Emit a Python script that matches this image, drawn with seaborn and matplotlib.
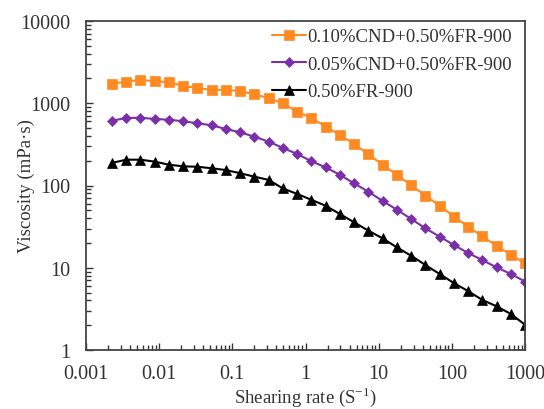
import numpy as np
import pandas as pd
import matplotlib
matplotlib.use("Agg")
import matplotlib.pyplot as plt
import matplotlib.ticker as mticker
import seaborn as sns

shear_rate = [0.00226, 0.00355, 0.00555, 0.00869, 0.0136, 0.0213, 0.0333, 0.0522,
              0.0818, 0.128, 0.200, 0.314, 0.491, 0.769, 1.205, 1.888, 2.95, 4.62,
              7.24, 11.3, 17.7, 27.8, 43.5, 68.1, 107, 167, 261, 409, 641, 1000]
visc_010cnd = [1730, 1830, 1930, 1850, 1800, 1630, 1530, 1450, 1460, 1400, 1290, 1150,
               1000, 788, 662, 519, 411, 320, 239, 179, 135, 101, 75, 57, 41.8, 31.6,
               24.1, 18.5, 14.4, 11.3]
visc_005cnd = [614, 662, 667, 644, 631, 604, 571, 540, 486, 443, 392, 341,
               286, 242, 197, 166, 135, 106, 84, 65, 50.8, 39.2, 30.2, 23.9, 18.9,
               15.1, 12.4, 10.1, 8.4, 6.8]
visc_fr900 = [188, 206, 206, 195, 179, 171, 169, 162, 154, 141, 128, 117,
              92, 79, 67, 56.7, 45, 35.7, 28.2, 22.8, 17.7, 14.0, 10.8, 8.4, 6.5,
              5.2, 4.06, 3.4, 2.74, 2.03]
series_names = ["0.10%CND+0.50%FR-900", "0.05%CND+0.50%FR-900", "0.50%FR-900"]
x_tick_labels = ["0.001", "0.01", "0.1", "1", "10", "100", "1000"]
y_tick_labels = ["1", "10", "100", "1000", "10000"]

sns.set_theme(style="white")
plt.rcParams["font.family"] = ["Liberation Serif", "DejaVu Serif"]
plt.rcParams["mathtext.fontset"] = "custom"
plt.rcParams["mathtext.rm"] = "Liberation Serif"

fig = plt.figure(figsize=(5.44, 4.10), dpi=100)
ax = fig.add_axes([86/544, 1 - 351/410, (525-86)/544, (351-22)/410])

styles = [("#FF8A22", "s", 6.5), ("#7B2FA8", "D", 5.0), ("#000000", "^", 6.5)]
for name, vals, (col, mk, ms) in zip(series_names, [visc_010cnd, visc_005cnd, visc_fr900], styles):
    df = pd.DataFrame({"x": shear_rate, "y": vals})
    sns.lineplot(data=df, x="x", y="y", ax=ax, color=col, marker=mk, markersize=ms,
                 markeredgewidth=0.5, markeredgecolor=col, linewidth=1.5, label=name)

ax.set_xscale("log")
ax.set_yscale("log")
ax.set_xlim(0.001, 1000)
ax.set_ylim(1, 10000)
ax.xaxis.set_major_locator(mticker.FixedLocator([float(t) for t in x_tick_labels]))
ax.xaxis.set_major_formatter(mticker.FixedFormatter(x_tick_labels))
ax.yaxis.set_major_locator(mticker.FixedLocator([float(t) for t in y_tick_labels]))
ax.yaxis.set_major_formatter(mticker.FixedFormatter(y_tick_labels))
ax.xaxis.set_minor_locator(mticker.LogLocator(base=10, subs=np.arange(2, 10), numticks=20))
ax.yaxis.set_minor_locator(mticker.LogLocator(base=10, subs=np.arange(2, 10), numticks=20))
ax.xaxis.set_minor_formatter(mticker.NullFormatter())
ax.yaxis.set_minor_formatter(mticker.NullFormatter())
ax.tick_params(which="both", direction="in", colors="#333333", labelcolor="#333333",
               labelsize=14.5, width=1, bottom=True, left=True, top=False, right=False)
ax.tick_params(which="major", length=5)
ax.tick_params(which="minor", length=3.5)
ax.tick_params(axis="x", which="major", pad=10)
ax.tick_params(axis="y", which="major", pad=11)

for sp in ax.spines.values():
    sp.set_color("#444444")
    sp.set_linewidth(1.3)

ax.set_xlabel("Shearing rate (S$^{\\mathregular{-1}}$)", fontsize=13.5, color="#333333")
ax.set_ylabel("Viscosity (mPa·s)", fontsize=13.5, color="#333333")
ax.xaxis.set_label_coords(0.5, -0.105)
ax.yaxis.set_label_coords(-0.117, 0.5)

leg = ax.legend(loc="upper right", frameon=False, fontsize=13.5, handlelength=1.8,
                handletextpad=0.08, labelspacing=0.55, borderaxespad=0.3,
                bbox_to_anchor=(1.0, 1.018))
for t in leg.get_texts():
    t.set_color("#333333")

fig.savefig("out.png", dpi=100)
